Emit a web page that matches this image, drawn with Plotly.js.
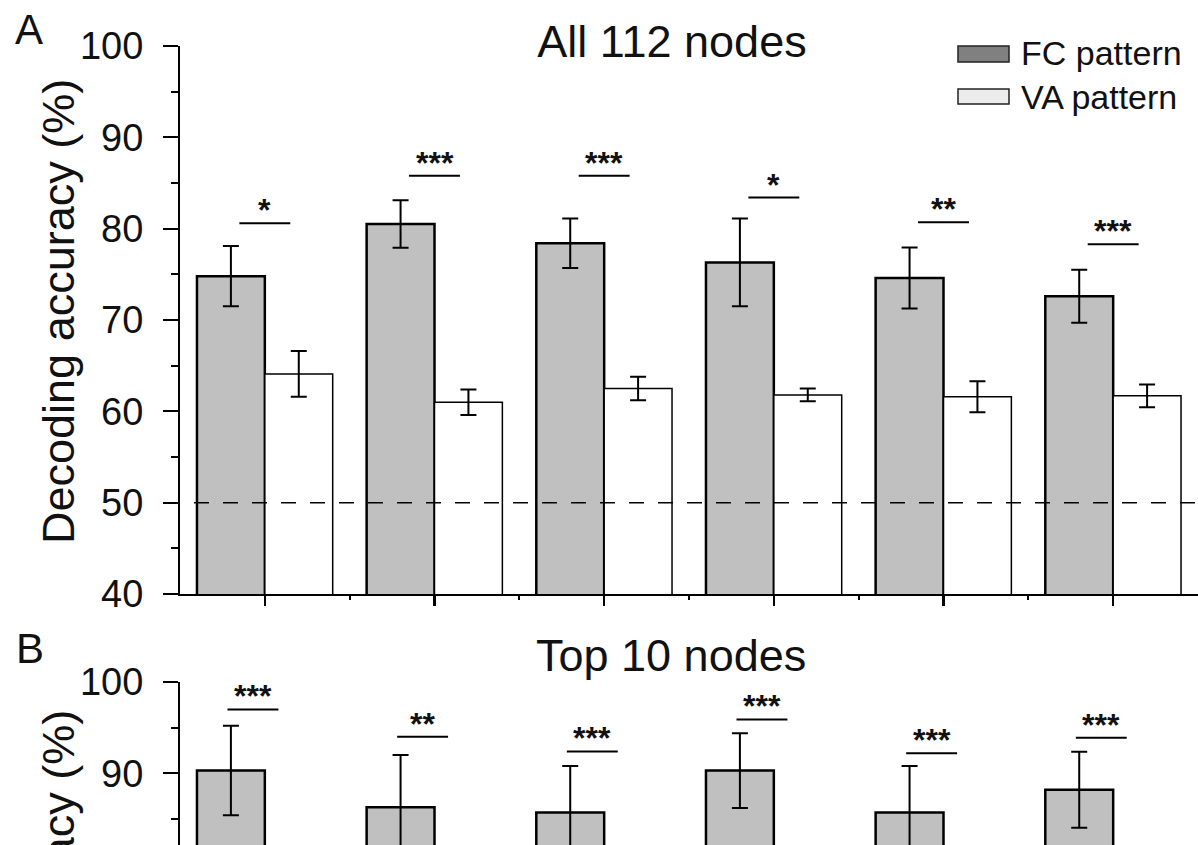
<!DOCTYPE html>
<html>
<head>
<meta charset="utf-8">
<script src="https://cdn.plot.ly/plotly-3.0.1.min.js"></script>
<style>html,body{margin:0;padding:0;background:#fff;}#chart{width:1198px;height:845px;}</style>
</head>
<body>
<div id="chart"></div>
<script>
// ---- data ----
const groupLabels = ['Group 1', 'Group 2', 'Group 3', 'Group 4', 'Group 5', 'Group 6'];
const seriesNames = ['FC pattern', 'VA pattern'];
// Panel A: all 112 nodes
const fcA    = [74.8, 80.5, 78.4, 76.3, 74.6, 72.6];
const fcAerr = [3.3, 2.6, 2.7, 4.8, 3.35, 2.9];
const vaA    = [64.1, 61.0, 62.5, 61.8, 61.6, 61.7];
const vaAerr = [2.5, 1.4, 1.3, 0.7, 1.7, 1.25];
const sigA   = ['*', '***', '***', '*', '**', '***'];
const sigAy  = [80.6, 85.8, 85.8, 83.4, 80.7, 78.3];
// Panel B: top 10 nodes (only upper part visible)
const fcB    = [90.3, 86.3, 85.7, 90.3, 85.7, 88.2];
const fcBerr = [4.9, 5.7, 5.1, 4.1, 5.1, 4.15];
const sigB   = ['***', '**', '***', '***', '***', '***'];
const sigBy  = [97.0, 94.0, 92.4, 95.9, 92.2, 93.9];
const chanceLevel = 50;
const yTicks = [40, 50, 60, 70, 80, 90, 100];
const titles = ['All 112 nodes', 'Top 10 nodes'];
const yTitle = 'Decoding accuracy (%)';
const panelLabels = ['A', 'B'];

// ---- geometry helpers ----
const W = 1198, H = 845, L = 180, T = 46;
const px2x = p => (p - L) / (W - L);
const py2y = p => (H - p) / (H - T);
const xs = groupLabels.map((_, i) => i);
const FONT = 'Arial, "Liberation Sans", sans-serif';
const GRAY = '#c0c0c0';

const errStyle = (arr) => ({type: 'data', array: arr, visible: true, color: '#000', thickness: 2, width: 8});

const traces = [
  {type: 'bar', name: seriesNames[0], x: xs, y: fcA, xaxis: 'x', yaxis: 'y',
   width: 0.4, offset: -0.4, marker: {color: GRAY, line: {color: '#000', width: 2.5}},
   error_y: errStyle(fcAerr), showlegend: false, hoverinfo: 'y'},
  {type: 'bar', name: seriesNames[1], x: xs, y: vaA, xaxis: 'x', yaxis: 'y',
   width: 0.4, offset: 0, marker: {color: '#ffffff', line: {color: '#000', width: 1.5}},
   error_y: errStyle(vaAerr), showlegend: false, hoverinfo: 'y'},
  {type: 'bar', name: seriesNames[0], x: xs, y: fcB, xaxis: 'x2', yaxis: 'y2',
   width: 0.4, offset: -0.4, marker: {color: GRAY, line: {color: '#000', width: 2.5}},
   error_y: errStyle(fcBerr), showlegend: false, hoverinfo: 'y'}
];

const shapes = [];
const annotations = [];

// chance line
shapes.push({type: 'line', xref: 'paper', yref: 'y', x0: px2x(165), x1: 1, y0: chanceLevel, y1: chanceLevel,
  line: {color: '#000', width: 1.5, dash: '15px,14px'}, layer: 'above'});

// significance bars
const HW = 0.15;
function addSig(levels, heights, yref, off) {
  levels.forEach((s, i) => {
    shapes.push({type: 'line', xref: yref === 'y' ? 'x' : 'x2', yref: yref,
      x0: xs[i] + off - HW, x1: xs[i] + off + HW, y0: heights[i], y1: heights[i],
      line: {color: '#000', width: 2}});
    annotations.push({xref: yref === 'y' ? 'x' : 'x2', yref: yref, x: xs[i] + off, y: heights[i],
      text: '<b>' + s + '</b>', showarrow: false, yanchor: 'middle', yshift: 13,
      font: {family: FONT, size: 32, color: '#111'}});
  });
}
addSig(sigA, sigAy, 'y', 0);
addSig(sigB, sigBy, 'y2', -0.07);

// legend (drawn manually)
shapes.push({type: 'rect', xref: 'paper', yref: 'paper', x0: px2x(958), x1: px2x(1009), y0: py2y(62), y1: py2y(46),
  fillcolor: '#808080', line: {color: '#222', width: 1.5}});
shapes.push({type: 'rect', xref: 'paper', yref: 'paper', x0: px2x(958), x1: px2x(1009), y0: py2y(104), y1: py2y(89),
  fillcolor: '#ececec', line: {color: '#222', width: 1.5}});
annotations.push({xref: 'paper', yref: 'paper', x: px2x(1019), y: py2y(53), xanchor: 'left', yanchor: 'middle',
  text: seriesNames[0], showarrow: false, font: {family: FONT, size: 34, color: '#111'}});
annotations.push({xref: 'paper', yref: 'paper', x: px2x(1019), y: py2y(97), xanchor: 'left', yanchor: 'middle',
  text: seriesNames[1], showarrow: false, font: {family: FONT, size: 34, color: '#111'}});

// panel B title
annotations.push({xref: 'paper', yref: 'paper', x: px2x(671), y: py2y(655), xanchor: 'center', yanchor: 'middle',
  text: titles[1], showarrow: false, font: {family: FONT, size: 45, color: '#111'}});
// panel letters
annotations.push({xref: 'paper', yref: 'paper', x: px2x(29), y: py2y(30), xanchor: 'center', yanchor: 'middle',
  text: panelLabels[0], showarrow: false, font: {family: FONT, size: 42, color: '#111'}});
annotations.push({xref: 'paper', yref: 'paper', x: px2x(30), y: py2y(648), xanchor: 'center', yanchor: 'middle',
  text: panelLabels[1], showarrow: false, font: {family: FONT, size: 42, color: '#111'}});
// y titles (panel B's is cut by the bottom edge, as in the reference)
annotations.push({xref: 'paper', yref: 'paper', x: px2x(58), y: py2y(312), xanchor: 'center', yanchor: 'middle',
  textangle: -90, text: yTitle, showarrow: false, font: {family: FONT, size: 45, color: '#111'}});
annotations.push({xref: 'paper', yref: 'paper', x: px2x(58), y: py2y(943), xanchor: 'center', yanchor: 'middle',
  textangle: -90, text: yTitle, showarrow: false, font: {family: FONT, size: 45, color: '#111'}});

const yAxisCommon = {
  tickvals: yTicks, ticks: 'outside', ticklen: 15, tickwidth: 2, tickcolor: '#000',
  showline: true, linecolor: '#000', linewidth: 2, showgrid: false, zeroline: false,
  tickfont: {family: FONT, size: 38, color: '#111'}, ticklabelstandoff: 12,
  minor: {ticks: 'outside', dtick: 5, tick0: 0, ticklen: 7, tickwidth: 2, tickcolor: '#000', showgrid: false},
  fixedrange: true
};

const layout = {
  width: W, height: H,
  margin: {l: L, r: 0, t: T, b: 0, pad: 0},
  paper_bgcolor: '#fff', plot_bgcolor: '#fff',
  font: {family: FONT, color: '#111'},
  title: {text: titles[0], font: {family: FONT, size: 45, color: '#111'},
    xref: 'container', yref: 'container', x: 672 / W, y: 1 - 41 / H, xanchor: 'center', yanchor: 'middle'},
  showlegend: false,
  barmode: 'overlay',
  xaxis: {domain: [0, 1], anchor: 'y', range: [-0.5, 5.5], tickvals: xs, showticklabels: false,
    ticks: 'outside', ticklen: 10, tickwidth: 2.5, tickcolor: '#000',
    showline: true, linecolor: '#000', linewidth: 2, showgrid: false, zeroline: false,
    minor: {ticks: 'outside', tickvals: [0.5, 1.5, 2.5, 3.5, 4.5], ticklen: 4, tickwidth: 2, tickcolor: '#000', showgrid: false},
    fixedrange: true},
  yaxis: Object.assign({}, yAxisCommon, {domain: [py2y(594), 1], anchor: 'x', range: [40, 100]}),
  xaxis2: {domain: [0, 1], anchor: 'y2', range: [-0.5, 5.5], visible: false, fixedrange: true},
  yaxis2: Object.assign({}, yAxisCommon, {domain: [0, py2y(682)], anchor: 'x2',
    range: [100 - 163 / (548 / 60), 100]}),
  shapes: shapes,
  annotations: annotations
};

Plotly.newPlot('chart', traces, layout, {displayModeBar: false, staticPlot: true});
</script>
</body>
</html>
